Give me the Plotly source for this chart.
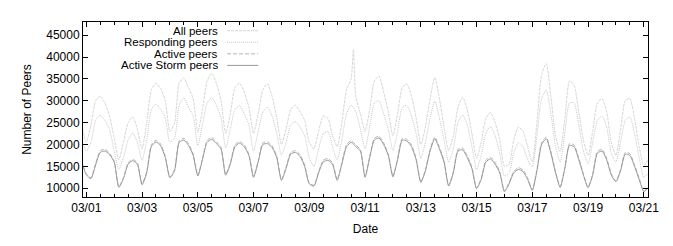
import pandas as pd
import plotly.graph_objects as go

# time grid: every 4 hours, 2007-02-28 20:00 .. 2007-03-21 04:00
times = pd.date_range("2007-02-28 20:00", "2007-03-21 04:00", freq="4h")

all_peers = [24500,
    20500, 24500, 30000, 31000, 29500, 26500,
    21500, 16500, 20500, 25000, 26300, 23500,
    19000, 25000, 32500, 34000, 32800, 30000,
    23000, 25000, 34000, 35200, 33000, 30500,
    22800, 28000, 34500, 36300, 34000, 30000,
    22500, 27000, 33000, 34000, 32000, 28500,
    22500, 27000, 32500, 33900, 31000, 26000,
    20000, 23500, 28000, 29000, 27500, 25500,
    20500, 19000, 23000, 26500, 26000, 22000,
    19500, 25000, 32500, 35000, 31000, 27000,
    23000, 28000, 34500, 35700, 32000, 27500,
    22000, 27000, 33000, 33800, 31000, 26000,
    20000, 24000, 30500, 35300, 30500, 24000,
    18600, 22000, 28500, 30800, 28000, 22500,
    16800, 20500, 26000, 27300, 25000, 21000,
    15000, 15500, 21000, 24000, 23000, 19500,
    16000, 25000, 36000, 38500, 31000, 22000,
    18300, 26000, 34500, 33500, 27500, 21000,
    17500, 23000, 29500, 30500, 27500, 20500,
    17500, 23500, 30000, 30500, 26000, 19500,
    15300, 16500]
spike_time = "2007-03-10 14:00"
spike_value = 41700

responding = [21500,
    18500, 20500, 25500, 26700, 25500, 23500,
    18500, 14300, 17000, 21000, 22600, 20500,
    16400, 21000, 28000, 29200, 28000, 26000,
    20500, 21500, 29000, 30700, 28500, 26500,
    19800, 24500, 29500, 30700, 29000, 26000,
    19200, 23500, 28000, 28900, 27000, 24500,
    18500, 23000, 27500, 28500, 26500, 22500,
    17500, 20500, 24500, 25200, 24000, 22000,
    17000, 15000, 19000, 22500, 23000, 19500,
    16500, 21000, 27000, 29000, 27500, 23500,
    19000, 24000, 29500, 30000, 27000, 23500,
    18600, 23000, 28500, 28900, 26500, 22500,
    16800, 20500, 26000, 30000, 26000, 21000,
    16000, 19000, 25000, 26700, 24500, 19500,
    14300, 17500, 22500, 24100, 22000, 18000,
    12800, 13500, 18000, 20400, 19500, 16500,
    14900, 22000, 30500, 32500, 27000, 19500,
    16000, 22500, 29500, 29500, 24500, 18500,
    15600, 20500, 25500, 26500, 24000, 18000,
    16000, 20500, 25500, 26300, 22500, 17000,
    12500, 13500]

active = [16200,
    13300, 12400, 15600, 18600, 18900, 18000,
    16200, 10400, 12400, 15800, 16600, 15800,
    11000, 13800, 19900, 21000, 20100, 17300,
    12600, 14300, 20900, 21400, 20200, 17800,
    13000, 16800, 20900, 21600, 20600, 19300,
    13200, 15800, 19900, 20700, 19900, 17800,
    12700, 16300, 20400, 20600, 19700, 17300,
    12000, 14800, 18200, 18600, 17700, 15300,
    11200, 10700, 13800, 16400, 16800, 15800,
    12000, 15800, 19900, 20900, 19900, 18800,
    12700, 17300, 21400, 21900, 20400, 17800,
    12800, 16800, 21400, 21200, 19900, 16800,
    11500, 14300, 18900, 21700, 19400, 16300,
    10700, 13800, 18900, 19200, 17400, 14800,
    10100, 12300, 16400, 17100, 15900, 13800,
    9400, 11300, 13800, 14700, 14200, 12300,
    9700, 14300, 20400, 21700, 18400, 13800,
    10400, 14800, 20200, 19900, 16900, 13300,
    10300, 13300, 18400, 18900, 16900, 13300,
    11700, 14300, 18200, 17900, 15400, 12300,
    9400, 10400]

storm = [16000,
    13100, 12200, 15300, 18200, 18500, 17700,
    16000, 10200, 12200, 15500, 16300, 15500,
    10800, 13500, 19500, 20600, 19700, 17000,
    12400, 14000, 20500, 21000, 19800, 17500,
    12800, 16500, 20500, 21200, 20200, 19000,
    13000, 15500, 19500, 20300, 19500, 17500,
    12500, 16000, 20000, 20200, 19300, 17000,
    11800, 14500, 17800, 18200, 17300, 15000,
    11000, 10500, 13500, 16000, 16400, 15500,
    11800, 15500, 19500, 20500, 19500, 18500,
    12500, 17000, 21000, 21500, 20000, 17500,
    12600, 16500, 21000, 20800, 19500, 16500,
    11300, 14000, 18500, 21300, 19000, 16000,
    10500, 13500, 18500, 18800, 17000, 14500,
    9900, 12000, 16000, 16700, 15500, 13500,
    9200, 11000, 13500, 14300, 13800, 12000,
    9500, 14000, 20000, 21300, 18000, 13500,
    10200, 14500, 19800, 19500, 16500, 13000,
    10100, 13000, 18000, 18500, 16500, 13000,
    11500, 14000, 17800, 17500, 15000, 12000,
    9200, 10200]

labels = ["All peers", "Responding peers", "Active peers", "Active Storm peers"]
colors = ["#d6d6d6", "#c8c8c8", "#b4b4b4", "#9a9a9a"]
dashes = ["3px,1px", "1px,1px", "4px,2px", "solid"]

# All peers series with the short spike inserted
s_all = pd.Series(all_peers, index=times)
s_all.loc[pd.Timestamp(spike_time)] = spike_value
s_all = s_all.sort_index()

series = [
    (s_all.index, s_all.values),
    (times, responding),
    (times, active),
    (times, storm),
]

fig = go.Figure()
for (x, y), name, c, d in zip(series, labels, colors, dashes):
    fig.add_trace(go.Scatter(x=x, y=y, mode="lines", name=name,
                             line=dict(color=c, width=1, dash=d, shape="spline", smoothing=0.6),
                             showlegend=False))

# gnuplot-style legend: right-aligned text with sample line to the right
row_y = [0.950, 0.884, 0.818, 0.752]
for name, c, d, ry in zip(labels, colors, dashes, row_y):
    fig.add_annotation(x=0.2407, y=ry, xref="paper", yref="paper", text=name,
                       showarrow=False, xanchor="right", yanchor="middle",
                       borderpad=0, align="right",
                       font=dict(size=11.5, color="black"))
    fig.add_shape(type="line", xref="paper", yref="paper",
                  x0=0.255, x1=0.310, y0=ry, y1=ry,
                  line=dict(color=c, width=1, dash=d))

axis_font = dict(family="Liberation Sans, Arial, sans-serif", size=12, color="black")
fig.update_layout(
    width=673, height=246,
    margin=dict(l=83, r=25, t=22, b=43),
    paper_bgcolor="white", plot_bgcolor="white",
    font=axis_font,
    xaxis=dict(
        type="date",
        range=["2007-02-28 21:10", "2007-03-21 03:36"],
        tick0="2007-03-01", dtick=2 * 86400000, tickformat="%m/%d",
        ticks="inside", ticklen=5, tickcolor="black",
        minor=dict(dtick=43200000, ticks="inside", ticklen=3, tickcolor="black"),
        showline=True, linecolor="black", linewidth=1, mirror="ticks",
        showgrid=False, zeroline=False,
        title=dict(text="Date", standoff=10, font=axis_font),
        tickfont=axis_font,
    ),
    yaxis=dict(
        range=[8000, 48000],
        tickvals=[10000, 15000, 20000, 25000, 30000, 35000, 40000, 45000],
        ticktext=["10000", "15000", "20000", "25000", "30000", "35000", "40000", "45000"],
        ticks="inside", ticklen=5, tickcolor="black",
        showline=True, linecolor="black", linewidth=1, mirror="ticks",
        showgrid=False, zeroline=False,
        title=dict(text="Number of Peers", standoff=12, font=axis_font),
        tickfont=axis_font,
    ),
)

fig.write_html("out.html")
